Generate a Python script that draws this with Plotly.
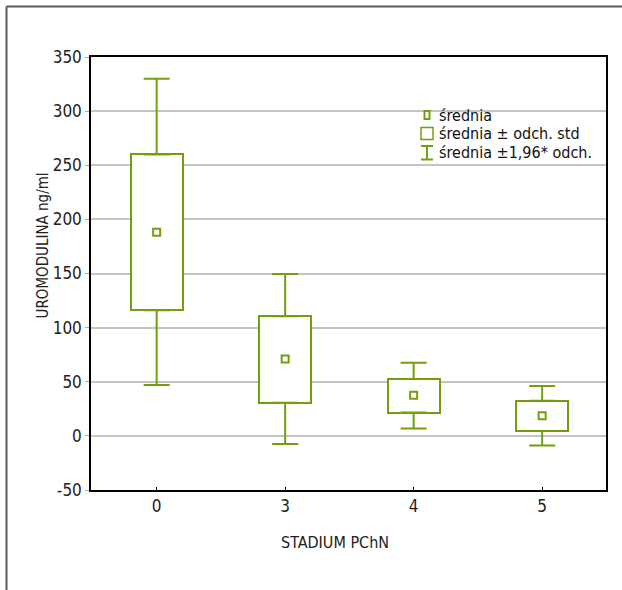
import plotly.graph_objects as go

# ---- data ----
categories = ["0", "3", "4", "5"]
means = [188, 71, 37.5, 18.5]
std_low = [116, 30.5, 21.5, 4.5]
std_high = [260, 110.5, 52.5, 32.5]
ci_low = [47, -7.5, 6.7, -9]
ci_high = [330, 149.5, 67.5, 46]
y_ticks = [-50, 0, 50, 100, 150, 200, 250, 300, 350]
y_ticktext = ["-50", "0", "50", "100", "150", "200", "250", "300", "350"]
legend_labels = ["średnia", "średnia ± odch. std", "średnia ±1,96* odch."]

GREEN = "#759d10"
FONT = "DejaVu Sans Condensed, DejaVu Sans, sans-serif"
W, H = 622, 590
L, R, T, B = 91, 16, 57, 100
PW, PH = W - L - R, H - T - B

def px(xp):
    return (xp - L) / PW

def py(yp):
    return (H - B - yp) / PH

idx = list(range(len(categories)))

fig = go.Figure()

# boxes (mean ± sd)
fig.add_trace(go.Bar(
    x=idx, base=std_low, y=[h - l for h, l in zip(std_high, std_low)],
    width=0.405, marker=dict(color="white", line=dict(color=GREEN, width=2)),
    showlegend=False, hoverinfo="skip"))

# upper whiskers
fig.add_trace(go.Scatter(
    x=idx, y=std_high, mode="markers",
    marker=dict(color="rgba(0,0,0,0)", size=1),
    error_y=dict(type="data", symmetric=False,
                 array=[c - s for c, s in zip(ci_high, std_high)],
                 arrayminus=[0] * len(idx), width=13, thickness=2, color=GREEN),
    showlegend=False, hoverinfo="skip"))

# lower whiskers
fig.add_trace(go.Scatter(
    x=idx, y=std_low, mode="markers",
    marker=dict(color="rgba(0,0,0,0)", size=1),
    error_y=dict(type="data", symmetric=False,
                 array=[0] * len(idx),
                 arrayminus=[s - c for c, s in zip(ci_low, std_low)],
                 width=13, thickness=2, color=GREEN),
    showlegend=False, hoverinfo="skip"))

# means
fig.add_trace(go.Scatter(
    x=idx, y=means, mode="markers",
    marker=dict(symbol="square-open", size=7, color=GREEN, line=dict(width=2, color=GREEN)),
    showlegend=False))

shapes = []
annotations = []

# outer frame
shapes.append(dict(type="line", xref="paper", yref="paper",
                   x0=px(6.5), y0=py(600), x1=px(6.5), y1=py(6.5),
                   line=dict(color="#5a5a5a", width=2)))
shapes.append(dict(type="line", xref="paper", yref="paper",
                   x0=px(6.5), y0=py(6.5), x1=px(640), y1=py(6.5),
                   line=dict(color="#5a5a5a", width=2)))

# manual legend
shapes.append(dict(type="rect", xref="paper", yref="paper",
                   x0=px(424.5), x1=px(429.5), y0=py(119), y1=py(111),
                   line=dict(color=GREEN, width=2), fillcolor="white"))
shapes.append(dict(type="rect", xref="paper", yref="paper",
                   x0=px(421), x1=px(433), y0=py(139.5), y1=py(127.5),
                   line=dict(color=GREEN, width=1.5), fillcolor="white"))
shapes.append(dict(type="line", xref="paper", yref="paper",
                   x0=px(427), x1=px(427), y0=py(146), y1=py(159.5),
                   line=dict(color=GREEN, width=2)))
shapes.append(dict(type="line", xref="paper", yref="paper",
                   x0=px(421), x1=px(433), y0=py(146), y1=py(146),
                   line=dict(color=GREEN, width=2)))
shapes.append(dict(type="line", xref="paper", yref="paper",
                   x0=px(421), x1=px(433), y0=py(159.5), y1=py(159.5),
                   line=dict(color=GREEN, width=2)))

for lbl, yc in zip(legend_labels, [115, 133, 152]):
    annotations.append(dict(text=lbl, xref="paper", yref="paper",
                            x=px(437), y=py(yc), xanchor="left", yanchor="middle",
                            showarrow=False, font=dict(size=16, color="#111", family=FONT)))

# axis titles
annotations.append(dict(text="UROMODULINA ng/ml", xref="paper", yref="paper",
                        x=px(42), y=py(245.5), textangle=-90, xanchor="center", yanchor="middle",
                        showarrow=False, font=dict(size=15, color="#222", family=FONT)))
annotations.append(dict(text="STADIUM PChN", xref="paper", yref="paper",
                        x=px(334.5), y=py(542), xanchor="center", yanchor="middle",
                        showarrow=False, font=dict(size=16, color="#222", family=FONT)))

fig.update_layout(
    width=W, height=H,
    margin=dict(l=L, r=R, t=T, b=B),
    paper_bgcolor="white", plot_bgcolor="white",
    font=dict(family=FONT, size=16, color="#222"),
    shapes=shapes, annotations=annotations,
    showlegend=False, bargap=0,
    xaxis=dict(range=[-0.511, 3.497], tickmode="array", tickvals=idx, ticktext=categories,
               showgrid=False, zeroline=False, showline=True, mirror=True,
               linecolor="black", linewidth=1.5, ticks="inside", ticklen=3,
               tickcolor="black", tickfont=dict(size=17, family=FONT, color="#222")),
    yaxis=dict(range=[-50, 350], tickmode="array", tickvals=y_ticks, ticktext=y_ticktext,
               showgrid=True, gridcolor="#c4c4c4", gridwidth=1.5, zeroline=False,
               showline=True, mirror=True, linecolor="black", linewidth=1.5,
               ticks="outside", ticklen=4, tickcolor="#aaaaaa",
               tickfont=dict(size=17, family=FONT, color="#222")),
)

fig.write_html("out.html", config={"displayModeBar": False},
               post_script="document.body.style.margin='0';")
